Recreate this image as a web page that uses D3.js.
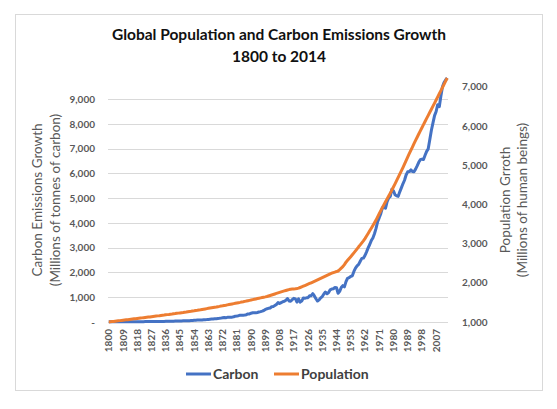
<!DOCTYPE html>
<html>
<head>
<meta charset="utf-8">
<script src="https://cdn.jsdelivr.net/npm/d3@7"></script>
<style>
  body { margin: 0; background: #fff; }
  text { font-family: Lato, "Open Sans", sans-serif; }
  .tick-label { font-size: 10px; font-weight: bold; fill: #595959; }
  .axis-title { font-size: 13.5px; fill: #595959; }
</style>
</head>
<body>
<div id="chart"></div>
<script>
const width = 557;
const height = 409;

const margin = { top: 78, right: 109, bottom: 87, left: 108 };

// Years 1800..2014, one category per year
const years = d3.range(1800, 2015);

const yearLabels = [1800, 1809, 1818, 1827, 1836, 1845, 1854, 1863, 1872, 1881,
  1890, 1899, 1908, 1917, 1926, 1935, 1944, 1953, 1962, 1971, 1980, 1989, 1998, 2007];

// Carbon emissions, millions of tonnes of carbon
const carbon = [
  8, 8, 8, 8, 9, 9, 10, 10, 10, 10,
  10, 11, 11, 11, 11, 12, 13, 14, 14, 14,
  14, 14, 15, 16, 16, 17, 17, 18, 18, 18,
  24, 23, 23, 24, 24, 25, 29, 29, 30, 31,
  33, 34, 36, 37, 39, 43, 43, 46, 47, 50,
  54, 54, 57, 59, 69, 71, 76, 77, 78, 83,
  91, 95, 97, 104, 112, 119, 122, 130, 135, 142,
  147, 156, 173, 184, 174, 188, 191, 194, 196, 210,
  236, 243, 256, 272, 275, 277, 281, 295, 327, 327,
  356, 372, 374, 370, 383, 406, 419, 440, 465, 507,
  534, 552, 566, 617, 624, 663, 707, 784, 750, 785,
  819, 836, 879, 943, 850, 838, 901, 955, 936, 806,
  932, 803, 845, 970, 963, 975, 983, 1062, 1065, 1145,
  1053, 940, 847, 893, 973, 1027, 1130, 1209, 1142, 1192,
  1299, 1334, 1342, 1391, 1383, 1160, 1238, 1392, 1469, 1419,
  1630, 1767, 1795, 1841, 1865, 2042, 2177, 2270, 2330, 2454,
  2569, 2580, 2686, 2833, 2995, 3130, 3288, 3393, 3566, 3780,
  4053, 4208, 4376, 4614, 4623, 4596, 4864, 5016, 5074, 5357,
  5301, 5138, 5094, 5075, 5258, 5417, 5583, 5725, 5936, 6066,
  6074, 6142, 6078, 6070, 6174, 6305, 6448, 6556, 6576, 6561,
  6733, 6893, 6994, 7376, 7743, 8042, 8336, 8503, 8776, 8697,
  9128, 9503, 9673, 9773, 9855
];

// World population, millions of people
const population = [
  1000, 1005, 1010, 1015, 1020, 1025, 1030, 1035, 1040, 1045,
  1050, 1055, 1060, 1065, 1070, 1075, 1080, 1085, 1090, 1095,
  1100, 1105, 1110, 1115, 1120, 1125, 1130, 1136, 1141, 1146,
  1151, 1156, 1161, 1167, 1172, 1177, 1183, 1188, 1193, 1199,
  1204, 1210, 1215, 1221, 1226, 1232, 1238, 1243, 1249, 1255,
  1262, 1268, 1274, 1281, 1287, 1294, 1300, 1307, 1313, 1320,
  1327, 1334, 1341, 1348, 1355, 1362, 1369, 1376, 1383, 1391,
  1398, 1406, 1413, 1421, 1428, 1436, 1444, 1452, 1460, 1468,
  1476, 1484, 1492, 1500, 1509, 1517, 1526, 1534, 1543, 1552,
  1561, 1570, 1579, 1588, 1597, 1606, 1615, 1624, 1633, 1641,
  1650, 1663, 1676, 1689, 1702, 1715, 1728, 1741, 1754, 1767,
  1780, 1792, 1804, 1816, 1826, 1833, 1839, 1844, 1846, 1853,
  1863, 1879, 1896, 1913, 1930, 1947, 1964, 1982, 2000, 2018,
  2036, 2055, 2074, 2093, 2112, 2131, 2150, 2169, 2188, 2207,
  2226, 2243, 2259, 2273, 2286, 2300, 2335, 2372, 2410, 2462,
  2525, 2572, 2619, 2665, 2713, 2762, 2813, 2865, 2917, 2966,
  3018, 3069, 3126, 3191, 3257, 3324, 3391, 3458, 3527, 3599,
  3682, 3761, 3838, 3915, 3991, 4066, 4139, 4212, 4286, 4362,
  4440, 4520, 4603, 4686, 4769, 4852, 4938, 5026, 5115, 5204,
  5290, 5375, 5460, 5545, 5628, 5710, 5792, 5873, 5953, 6033,
  6112, 6190, 6268, 6346, 6424, 6502, 6580, 6659, 6739, 6819,
  6898, 6978, 7058, 7139, 7220
];

const carbonTicks = [0, 1000, 2000, 3000, 4000, 5000, 6000, 7000, 8000, 9000];
const populationTicks = [1000, 2000, 3000, 4000, 5000, 6000, 7000];

const seriesNames = ["Carbon", "Population"];
const seriesColors = ["#4472C4", "#ED7D31"];

const svg = d3.select("#chart")
  .append("svg")
  .attr("width", width)
  .attr("height", height);

// chart frame
svg.append("rect")
  .attr("x", 15.5)
  .attr("y", 14.5)
  .attr("width", 527)
  .attr("height", 376)
  .attr("fill", "#fff")
  .attr("stroke", "#d9d9d9");

const xScale = d3.scaleBand()
  .domain(years)
  .range([margin.left, width - margin.right]);

const yLeft = d3.scaleLinear()
  .domain([0, d3.max(carbon)])
  .range([height - margin.bottom, margin.top]);

const yRight = d3.scaleLinear()
  .domain([1000, d3.max(population)])
  .range([height - margin.bottom, margin.top]);

function xMid(year) {
  return xScale(year) + xScale.bandwidth() / 2;
}

// gridlines
svg.selectAll(".grid")
  .data(carbonTicks)
  .enter()
  .append("line")
  .attr("class", "grid")
  .attr("x1", margin.left)
  .attr("x2", width - margin.right)
  .attr("y1", function(d) { return Math.round(yLeft(d)) + 0.5; })
  .attr("y2", function(d) { return Math.round(yLeft(d)) + 0.5; })
  .attr("stroke", "#d9d9d9")
  .attr("stroke-width", 1);

// left axis
const leftAxis = d3.axisLeft(yLeft)
  .tickValues(carbonTicks)
  .tickSize(0)
  .tickPadding(13)
  .tickFormat(function(d) { return d === 0 ? "-  " : d3.format(",")(d); });

svg.append("g")
  .attr("transform", "translate(" + margin.left + ",0)")
  .call(leftAxis)
  .call(function(g) { g.select(".domain").remove(); })
  .selectAll("text")
  .attr("class", "tick-label");

// right axis
const rightAxis = d3.axisRight(yRight)
  .tickValues(populationTicks)
  .tickSize(0)
  .tickPadding(14)
  .tickFormat(d3.format(","));

svg.append("g")
  .attr("transform", "translate(" + (width - margin.right) + ",0)")
  .call(rightAxis)
  .call(function(g) { g.select(".domain").remove(); })
  .selectAll("text")
  .attr("class", "tick-label");

// bottom axis labels, every 9 years
const bottomAxis = d3.axisBottom(xScale)
  .tickValues(yearLabels)
  .tickSize(0)
  .tickPadding(0);

svg.append("g")
  .attr("transform", "translate(0," + (height - margin.bottom) + ")")
  .call(bottomAxis)
  .call(function(g) { g.select(".domain").remove(); })
  .selectAll("text")
  .attr("class", "tick-label")
  .attr("transform", "rotate(-90)")
  .attr("text-anchor", "end")
  .attr("x", -7)
  .attr("y", 0)
  .attr("dy", "0.35em");

// lines
const carbonLine = d3.line()
  .x(function(d, i) { return xMid(years[i]); })
  .y(function(d) { return yLeft(d); });

const populationLine = d3.line()
  .x(function(d, i) { return xMid(years[i]); })
  .y(function(d) { return yRight(d); });

svg.append("path")
  .datum(carbon)
  .attr("fill", "none")
  .attr("stroke", seriesColors[0])
  .attr("stroke-width", 3)
  .attr("stroke-linejoin", "round")
  .attr("d", carbonLine);

svg.append("path")
  .datum(population)
  .attr("fill", "none")
  .attr("stroke", seriesColors[1])
  .attr("stroke-width", 3)
  .attr("stroke-linejoin", "round")
  .attr("d", populationLine);

// title
svg.append("text")
  .attr("x", 279)
  .attr("y", 40)
  .attr("text-anchor", "middle")
  .attr("font-size", "15.5px")
  .attr("font-weight", "bold")
  .attr("fill", "#111")
  .text("Global Population and Carbon Emissions Growth");

svg.append("text")
  .attr("x", 279)
  .attr("y", 62)
  .attr("text-anchor", "middle")
  .attr("font-size", "15.5px")
  .attr("font-weight", "bold")
  .attr("fill", "#111")
  .text("1800 to 2014");

// axis titles
const midY = (margin.top + height - margin.bottom) / 2;

svg.append("text")
  .attr("class", "axis-title")
  .attr("transform", "translate(42," + midY + ") rotate(-90)")
  .attr("text-anchor", "middle")
  .text("Carbon Emissions Growth");

svg.append("text")
  .attr("class", "axis-title")
  .attr("transform", "translate(60," + midY + ") rotate(-90)")
  .attr("text-anchor", "middle")
  .text("(Millions of tonnes of carbon)");

svg.append("text")
  .attr("class", "axis-title")
  .attr("transform", "translate(510," + midY + ") rotate(-90)")
  .attr("text-anchor", "middle")
  .text("Population Grroth");

svg.append("text")
  .attr("class", "axis-title")
  .attr("transform", "translate(527," + midY + ") rotate(-90)")
  .attr("text-anchor", "middle")
  .text("(Millions of human beings)");

// legend
const legendX = [186, 274];

const legend = svg.selectAll(".legend")
  .data(seriesNames)
  .enter()
  .append("g")
  .attr("class", "legend")
  .attr("transform", function(d, i) { return "translate(" + legendX[i] + ",374)"; });

legend.append("line")
  .attr("x1", 0)
  .attr("x2", 25)
  .attr("stroke", function(d, i) { return seriesColors[i]; })
  .attr("stroke-width", 3);

legend.append("text")
  .attr("x", 27)
  .attr("dy", "0.35em")
  .attr("font-size", "14px")
  .attr("font-weight", "bold")
  .attr("fill", "#404040")
  .text(function(d) { return d; });
</script>
</body>
</html>
